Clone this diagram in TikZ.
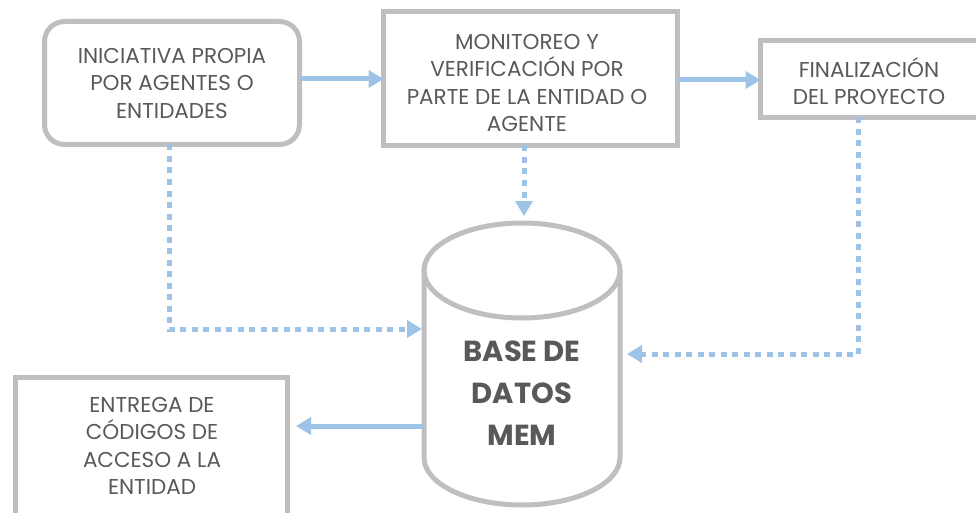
\documentclass[tikz,border=0pt]{standalone}
\usepackage{fontspec}
\setmainfont{Poppins}
\usetikzlibrary{arrows.meta,calc}
\definecolor{boxgray}{HTML}{BFBFBF}
\definecolor{txtgray}{HTML}{595959}
\definecolor{arrowblue}{HTML}{9DC3E6}
\tikzset{
  boxst/.style={draw=boxgray, line width=5pt, fill=white, inner sep=0pt, outer sep=0pt},
  txt/.style={text=txtgray, font=\fontsize{21.5}{27.5}\selectfont, align=center, inner sep=0pt},
  solidarrow/.style={draw=arrowblue, line width=5pt, -{Triangle[length=15pt,width=17pt]}},
  dotarrow/.style={draw=arrowblue, line width=5pt, dash pattern=on 6pt off 5.5pt, -{Triangle[length=15pt,width=17pt]}},
}
\begin{document}
\begin{tikzpicture}[x=1pt,y=-1pt]
\useasboundingbox (0,0) rectangle (976,513);
% boxes
\node[boxst, rounded corners=20pt, minimum width=255pt, minimum height=123pt] (b1) at (172,83) {};
\node[txt] (t1) at (172,83) {INICIATIVA PROPIA\\POR AGENTES O\\ENTIDADES};
\node[boxst, minimum width=294pt, minimum height=134pt] (b2) at (530.5,78.5) {};
\node[txt] (t2) at (527,83) {MONITOREO Y\\VERIFICACIÓN POR\\PARTE DE LA ENTIDAD O\\AGENTE};
\node[boxst, minimum width=219pt, minimum height=77pt] (b3) at (870,79) {};
\node[txt] (t3) at (869,81) {FINALIZACIÓN\\DEL PROYECTO};
\node[boxst, minimum width=272pt, minimum height=165pt] (b4) at (151.5,460) {};
\node[txt] (t4) at (152,446) {ENTREGA DE\\CÓDIGOS DE\\ACCESO A LA\\ENTIDAD};
% cylinder
\node[inner sep=0pt, minimum width=196pt, minimum height=282pt] (db) at (522,364) {};
\fill[white] (424,270.5) -- (424,457.5) arc[start angle=180, end angle=360, x radius=98, y radius=-47.5] -- (620,270.5) arc[start angle=0, end angle=180, x radius=98, y radius=-47.5] -- cycle;
\draw[boxgray, line width=5pt] (424,270.5) -- (424,457.5) arc[start angle=180, end angle=360, x radius=98, y radius=-47.5] -- (620,270.5);
\draw[boxgray, line width=5pt] (522,270.5) ellipse[x radius=98, y radius=47.5];
\node[text=txtgray, font=\bfseries\fontsize{29}{42}\selectfont, align=center, inner sep=0pt] (tdb) at (522,393) {BASE DE\\DATOS\\MEM};
% connection points
\coordinate (dbl1) at (422,329);
\coordinate (dbr1) at (627,354);
\coordinate (dbtop) at (524,216);
\coordinate (dbl2) at (424,426);
\coordinate (b4in) at (296,426);
% solid arrows
\draw[solidarrow] (b1.east |- 0,79) -- (b2.west |- 0,79);
\draw[solidarrow] (b2.east |- 0,80) -- (b3.west |- 0,80);
\draw[solidarrow] (dbl2) -- (b4in);
% dotted arrows
\draw[dotarrow] (b1.south -| 169,0) |- (dbl1);
\draw[dotarrow] (b2.south -| dbtop) -- (dbtop);
\draw[dotarrow] (b3.south -| 858,0) |- (dbr1);
\end{tikzpicture}
\end{document}
